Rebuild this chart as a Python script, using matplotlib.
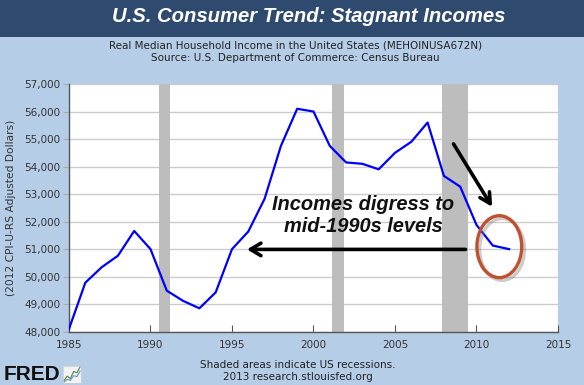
import numpy as np
import matplotlib
matplotlib.use("Agg")
import matplotlib.pyplot as plt
from matplotlib.patches import Rectangle, Ellipse
import matplotlib.patheffects as pe
from matplotlib.ticker import FuncFormatter

# Real median household income (2012 CPI-U-RS dollars)
years = list(range(1985, 2013))
income = [48100, 49780, 50340, 50760, 51660, 51000, 49490, 49120, 48850, 49430,
          51000, 51640, 52830, 54750, 56100, 56000, 54750, 54150, 54100, 53900,
          54500, 54900, 55600, 53660, 53270, 51880, 51130, 51000]

# US recessions (start, end) in fractional years
recessions = [(1990.5, 1991.2), (2001.15, 2001.85), (2007.9, 2009.45)]

title = "U.S. Consumer Trend: Stagnant Incomes"
subtitle = ("Real Median Household Income in the United States (MEHOINUSA672N)\n"
            "Source: U.S. Department of Commerce: Census Bureau")
ylabel = "(2012 CPI-U-RS Adjusted Dollars)"
note = "Shaded areas indicate US recessions.\n2013 research.stlouisfed.org"
callout = "Incomes digress to\nmid-1990s levels"

W, H = 584, 385
bg = "#b5cde6"
navy = "#2e4a6e"

fig = plt.figure(figsize=(W / 100, H / 100), dpi=100, facecolor=bg)

# header band
fig.patches.append(Rectangle((0, 1 - 37 / H), 1, 37 / H, transform=fig.transFigure,
                             facecolor=navy, edgecolor="none", zorder=0))
fig.text(0.528, 1 - 17 / H, title, color="white", fontsize=14.6, fontweight="bold",
         fontstyle="italic", family="Liberation Sans", ha="center", va="center")
fig.text(0.506, 1 - 52 / H, subtitle, color="#222222", fontsize=7.5, ha="center",
         va="center", linespacing=1.3)

# main axes
ax = fig.add_axes([69 / W, 1 - 331.7 / H, (558 - 69) / W, (331.7 - 84) / H])
ax.set_facecolor("white")
ax.set_xlim(1985, 2015)
ax.set_ylim(48000, 57000)

for a, b in recessions:
    ax.axvspan(a, b, color="#bdbdbd", lw=0, zorder=1)

ax.set_yticks(np.arange(48000, 57001, 1000))
ax.set_xticks(np.arange(1985, 2016, 5))
ax.yaxis.set_major_formatter(FuncFormatter(lambda v, p: f"{int(v):,}"))
ax.grid(axis="y", color="#cccccc", lw=1, zorder=0)
ax.set_axisbelow(True)

ax.plot(years, income, color="#0000ff", lw=1.6, zorder=3)

for s in ["top", "right"]:
    ax.spines[s].set_visible(False)
for s in ["left", "bottom"]:
    ax.spines[s].set_color("#555555")
    ax.spines[s].set_linewidth(1)
ax.tick_params(axis="x", direction="in", length=5, color="#555555",
               labelsize=7.5, labelcolor="#333333", pad=6)
ax.tick_params(axis="y", direction="out", length=4, color="#aaaaaa",
               labelsize=7.5, labelcolor="#333333", pad=2)
ax.set_ylabel(ylabel, fontsize=7.7, color="#333333", labelpad=6)

# annotations
ax.text(2003.05, 52210, callout, fontsize=14.4, fontweight="bold", fontstyle="italic",
        family="Liberation Sans", ha="center", va="center", color="#111111",
        linespacing=1.2, zorder=5)
ax.annotate("", xy=(1995.75, 50990), xytext=(2009.5, 50990),
            arrowprops=dict(arrowstyle="->,head_length=0.75,head_width=0.45",
                            lw=2.6, color="black"), zorder=5)
ax.annotate("", xy=(2011.05, 52450), xytext=(2008.5, 54910),
            arrowprops=dict(arrowstyle="->,head_length=0.75,head_width=0.4",
                            lw=2.6, color="black"), zorder=5)
ell = Ellipse((2011.4, 51090), 2.75, 2250, fill=False, edgecolor="#c0502e", lw=2.4,
              zorder=6)
ell.set_path_effects([pe.SimpleLineShadow(offset=(2, -2), shadow_color="gray", alpha=0.4),
                      pe.Normal()])
ax.add_patch(ell)

# footer
fig.text(298 / W, 1 - 371 / H, note, fontsize=7.5, color="#222222", ha="center",
         va="center", linespacing=1.3)
fig.text(4 / W, 1 - 375 / H, "FRED", fontsize=15, fontweight="heavy", color="#111111",
         family="Liberation Sans", ha="left", va="center")
icon = fig.add_axes([63 / W, 1 - 383 / H, 18 / W, 17 / H])
icon.set_facecolor("#f2f2f2")
icon.plot([0, 1, 2, 3, 4, 5], [0.5, 1.5, 1.0, 2.5, 2.2, 3.5], color="#4a8a3a", lw=0.8)
icon.plot([0, 1, 2, 3, 4, 5], [0.2, 0.8, 0.6, 1.6, 1.4, 2.6], color="#6b8fc9", lw=0.8)
icon.set_xticks([])
icon.set_yticks([])
for s in icon.spines.values():
    s.set_color("#cccccc")
    s.set_linewidth(0.5)

fig.savefig("out.png", dpi=100, facecolor=bg)
